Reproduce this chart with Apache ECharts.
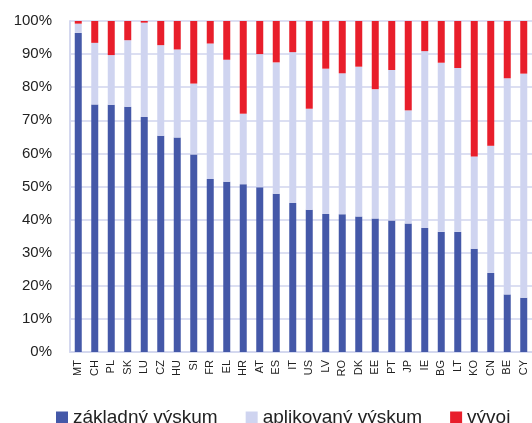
<!DOCTYPE html>
<html>
<head>
<meta charset="utf-8">
<script src="https://cdn.jsdelivr.net/npm/echarts@6/dist/echarts.min.js"></script>
<style>
  html, body { margin: 0; padding: 0; background: #fff; }
  #chart { width: 532px; height: 423px; }
</style>
</head>
<body>
<div id="chart"></div>
<script>
// krajiny
const krajiny = ['MT','CH','PL','SK','LU','CZ','HU','SI','FR','EL','HR','AT','ES','IT','US','LV','RO','DK','EE','PT','JP','IE','BG','LT','KO','CN','BE','CY']
// základný výskum (%)
const zakladny = [96.4,74.8,74.7,74.1,71.0,65.3,64.8,59.7,52.3,51.4,50.7,49.8,47.8,45.0,43.0,41.7,41.6,40.9,40.3,39.7,38.8,37.5,36.3,36.3,31.2,23.9,17.4,16.4]
// aplikovaný výskum (%)
const aplikovany = [2.8,18.6,15.0,20.1,28.5,27.4,26.6,21.4,40.9,36.9,21.3,40.2,39.7,45.6,30.5,43.9,42.6,45.3,39.1,45.5,34.2,53.4,51.1,49.5,27.9,38.4,65.3,67.7]
// vývoj (%)
const vyvoj = [0.8,6.6,10.3,5.8,0.5,7.3,8.6,18.9,6.8,11.7,28.0,10.0,12.5,9.4,26.5,14.4,15.8,13.8,20.6,14.8,27.0,9.1,12.6,14.2,40.9,37.7,17.3,15.9]

const chart = echarts.init(document.getElementById('chart'))
const font = 'Liberation Sans, Arial, sans-serif'
const options = {
  animation: false,
  grid: { left: 70, right: 0, top: 21, bottom: 71 },
  legend: {
    top: 403,
    left: 51,
    itemWidth: 12,
    itemHeight: 12,
    itemGap: 28,
    icon: 'rect',
    textStyle: { fontSize: 19, color: '#222', fontFamily: font },
    data: ['základný výskum', 'aplikovaný výskum', 'vývoj']
  },
  xAxis: {
    type: 'category',
    data: krajiny,
    axisLine: { lineStyle: { color: '#d4d8ef', width: 2 } },
    axisTick: { show: false },
    axisLabel: { rotate: 90, interval: 0, fontSize: 11, color: '#222', fontFamily: font, margin: 8 }
  },
  yAxis: {
    type: 'value',
    min: 0, max: 100, interval: 10,
    axisLine: { show: true, lineStyle: { color: '#d4d8ef', width: 2 } },
    splitLine: { lineStyle: { color: '#dcdff2', width: 2 } },
    axisLabel: { formatter: '{value}%', fontSize: 15, color: '#222', fontFamily: font, margin: 18 }
  },
  series: [
    { name: 'základný výskum', type: 'bar', stack: 's', data: zakladny, barWidth: 7, itemStyle: { color: '#4458a8' } },
    { name: 'aplikovaný výskum', type: 'bar', stack: 's', data: aplikovany, barWidth: 7, itemStyle: { color: '#cfd4f0' } },
    { name: 'vývoj', type: 'bar', stack: 's', data: vyvoj, barWidth: 7, itemStyle: { color: '#e81e2b' } }
  ]
}
chart.setOption(options)
</script>
</body>
</html>
